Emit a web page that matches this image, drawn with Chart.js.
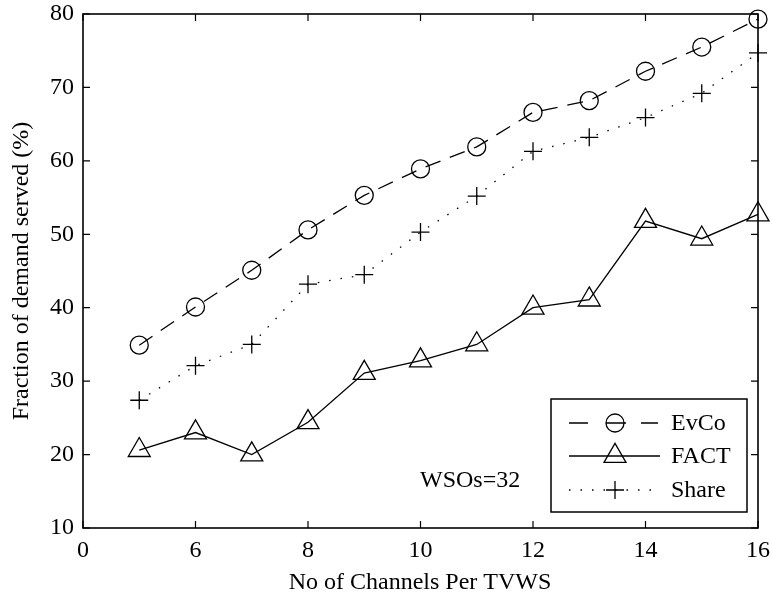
<!DOCTYPE html>
<html>
<head>
<meta charset="utf-8">
<script src="https://cdn.jsdelivr.net/npm/chart.js"></script>
<style>
  html, body { margin: 0; padding: 0; background: #fff; }
  canvas { display: block; }
</style>
</head>
<body>
<canvas id="demandChart" width="772" height="599"></canvas>
<script>
const channels = [5, 6, 7, 8, 9, 10, 11, 12, 13, 14, 15, 16];
const evco  = [34.9, 40.1, 45.1, 50.6, 55.3, 58.9, 61.9, 66.6, 68.2, 72.2, 75.5, 79.3];
const fact  = [20.6, 23.0, 20.0, 24.4, 31.1, 32.8, 35.0, 40.0, 41.1, 51.8, 49.4, 52.7];
const share = [27.4, 32.1, 35.0, 43.2, 44.5, 50.3, 55.2, 61.3, 63.2, 65.9, 69.2, 74.7];

const xTicks = [4, 6, 8, 10, 12, 14, 16];
const xTickLabels = ["0", "6", "8", "10", "12", "14", "16"];
const yTicks = [10, 20, 30, 40, 50, 60, 70, 80];

const FONT = "'Liberation Serif', 'Times New Roman', serif";
const FSIZE = 24;

function pts(ys) {
  return channels.map((x, i) => ({ x, y: ys[i] }));
}

const seriesStyle = [
  { label: "EvCo",  data: evco,  dash: [16, 10],  legendDash: [19, 18, 20, 15, 17, 40], pointStyle: "circle",   radius: 9 },
  { label: "FACT",  data: fact,  dash: [],        legendDash: [],                       pointStyle: "triangle", radius: 12.7 },
  { label: "Share", data: share, dash: [1.5, 10], legendDash: [1.5, 10],                pointStyle: "cross",    radius: 9 },
];

/* ── frame, inward ticks, legend, annotation ── */
const decorations = {
  id: "decorations",
  afterDraw(chart) {
    const { ctx, chartArea: a, scales } = chart;
    ctx.save();
    ctx.strokeStyle = "#000";
    ctx.lineWidth = 1.6;
    ctx.setLineDash([]);
    ctx.strokeRect(a.left, a.top, a.right - a.left, a.bottom - a.top);

    const tl = 7;
    ctx.lineWidth = 1.2;
    ctx.beginPath();
    xTicks.forEach((v) => {
      const px = scales.x.getPixelForValue(v);
      ctx.moveTo(px, a.bottom); ctx.lineTo(px, a.bottom - tl);
      ctx.moveTo(px, a.top);    ctx.lineTo(px, a.top + tl);
    });
    yTicks.forEach((v) => {
      const py = scales.y.getPixelForValue(v);
      ctx.moveTo(a.left, py);  ctx.lineTo(a.left + tl, py);
      ctx.moveTo(a.right, py); ctx.lineTo(a.right - tl, py);
    });
    ctx.stroke();

    // legend box
    const lx = 551, ly = 399, lw = 196, lh = 113;
    ctx.fillStyle = "#fff";
    ctx.fillRect(lx, ly, lw, lh);
    ctx.lineWidth = 1.5;
    ctx.strokeRect(lx, ly, lw, lh);

    const rows = [423, 456, 490];
    ctx.font = FSIZE + "px " + FONT;
    ctx.textBaseline = "middle";
    ctx.textAlign = "left";
    chart.data.datasets.forEach((ds, i) => {
      const y = rows[i];
      ctx.save();
      ctx.lineWidth = 1.3;
      ctx.strokeStyle = "#000";
      ctx.setLineDash(seriesStyle[i].legendDash);
      ctx.beginPath();
      ctx.moveTo(569, y);
      ctx.lineTo(660, y);
      ctx.stroke();
      ctx.restore();
      ctx.save();
      ctx.lineWidth = 1.3;
      ctx.strokeStyle = "#000";
      ctx.fillStyle = "rgba(0,0,0,0)";
      Chart.helpers.drawPoint(ctx, { pointStyle: ds.pointStyle, radius: ds.pointRadius, rotation: 0, borderWidth: 1.3 }, 615, y);
      ctx.restore();
      ctx.fillStyle = "#000";
      ctx.fillText(ds.label, 671, y + 1);
    });

    ctx.fillStyle = "#000";
    ctx.fillText("WSOs=32", 420, 481);

    // x axis title
    ctx.textAlign = "center";
    ctx.fillText("No of Channels Per TVWS", 420, 583);
    ctx.restore();
  },
};

new Chart(document.getElementById("demandChart"), {
  type: "line",
  data: {
    datasets: seriesStyle.map((s) => ({
      label: s.label,
      data: pts(s.data),
      borderColor: "#000",
      borderWidth: 1.3,
      borderDash: s.dash,
      pointStyle: s.pointStyle,
      pointRadius: s.radius,
      pointBorderWidth: 1.3,
      pointBorderColor: "#000",
      pointBackgroundColor: "rgba(0,0,0,0)",
      fill: false,
      tension: 0,
      clip: false,
    })),
  },
  options: {
    responsive: false,
    animation: false,
    devicePixelRatio: 1,
    layout: { padding: { top: 10, right: 13, left: 0, bottom: 0 } },
    plugins: { legend: { display: false }, tooltip: { enabled: false } },
    scales: {
      x: {
        type: "linear",
        min: 4,
        max: 16,
        grid: { display: false, drawTicks: false },
        border: { display: false },
        afterBuildTicks: (s) => { s.ticks = xTicks.map((v) => ({ value: v })); },
        afterFit: (s) => { s.height = 71; s.paddingLeft = 0; s.paddingRight = 0; },
        ticks: {
          color: "#000",
          padding: 8,
          maxRotation: 0,
          font: { family: FONT, size: FSIZE },
          callback: (v) => xTickLabels[xTicks.indexOf(v)],
        },
      },
      y: {
        min: 10,
        max: 80,
        grid: { display: false, drawTicks: false },
        border: { display: false },
        afterBuildTicks: (s) => { s.ticks = yTicks.map((v) => ({ value: v })); },
        afterFit: (s) => { s.width = 83; s.paddingTop = 0; s.paddingBottom = 0; },
        title: {
          display: true,
          text: "Fraction of demand served (%)",
          color: "#000",
          font: { family: FONT, size: FSIZE },
          padding: { top: 7, bottom: 0 },
        },
        ticks: {
          color: "#000",
          padding: 9,
          font: { family: FONT, size: FSIZE },
        },
      },
    },
  },
  plugins: [decorations],
});
</script>
</body>
</html>
